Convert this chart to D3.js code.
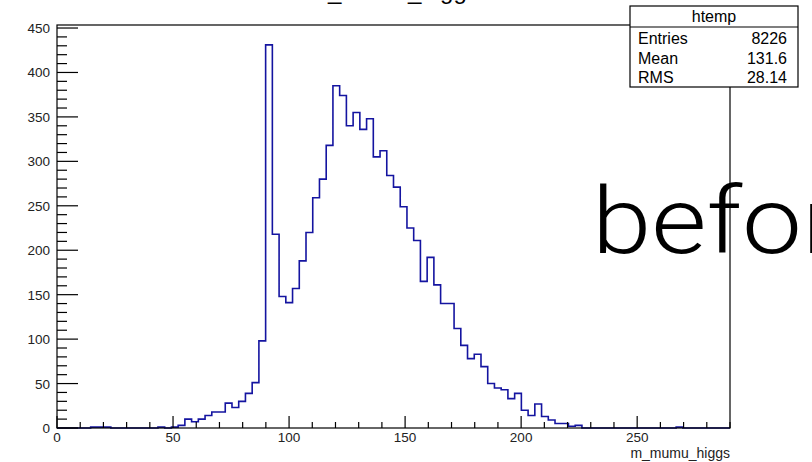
<!DOCTYPE html>
<html>
<head>
<meta charset="utf-8">
<script src="https://cdn.jsdelivr.net/npm/d3@7"></script>
<style>
  body { margin: 0; background: #fff; }
  text { font-family: "Liberation Sans", Arial, sans-serif; }
</style>
</head>
<body>
<div id="chart"></div>
<script>
// histogram of m_mumu_higgs, 100 bins from 0 to 290
const xMin = 0
const xMax = 290
const nBins = 100
const counts = [
  0, 0, 0, 0, 0, 1, 1, 1, 0, 0,
  0, 0, 0, 0, 0, 1, 0, 1, 3, 10,
  7, 10, 14, 18, 18, 28, 23, 30, 39, 51,
  98, 431, 218, 148, 141, 157, 188, 220, 259, 280,
  318, 385, 374, 340, 355, 336, 348, 305, 312, 284,
  271, 249, 225, 211, 165, 192, 161, 140, 140, 112,
  93, 78, 83, 69, 50, 45, 43, 33, 39, 20,
  14, 27, 13, 9, 5, 5, 2, 3, 0, 0,
  0, 0, 0, 0, 0, 0, 0, 0, 0, 0,
  0, 0, 1, 0, 0, 0, 0, 0, 0, 0
]
const xTicks = [0, 50, 100, 150, 200, 250]
const yTicks = [0, 50, 100, 150, 200, 250, 300, 350, 400, 450]
const histName = "htemp"
const statLabels = ["Entries", "Mean", "RMS"]
const statValues = ["8226", "131.6", "28.14"]
const titleText = "m_mumu_higgs"
const xTitle = "m_mumu_higgs"
const sideNote = "before"

const width = 812
const height = 462
const padL = 57, padR = 730, padT = 25, padB = 428

const svg = d3.select("#chart")
  .append("svg")
    .attr("width", width)
    .attr("height", height)

const x = d3.scaleLinear().domain([xMin, xMax]).range([padL, padR])
const y = d3.scaleLinear().domain([0, 453.4]).range([padB, padT])
const binW = (xMax - xMin) / nBins

// title, mostly cut off at the top of the canvas
svg.append("text")
  .attr("x", 308)
  .attr("y", -1)
  .style("font-size", "24px")
  .attr("fill", "#000")
  .text(titleText)

// histogram outline as steps
const pts = []
counts.forEach((c, i) => {
  pts.push([xMin + i * binW, c])
  pts.push([xMin + (i + 1) * binW, c])
})
svg.append("path")
  .datum(pts)
  .attr("fill", "none")
  .attr("stroke", "#1414a0")
  .attr("stroke-width", 1.6)
  .attr("d", d3.line().x(d => x(d[0])).y(d => y(d[1])))

// frame
svg.append("rect")
  .attr("x", padL).attr("y", padT)
  .attr("width", padR - padL).attr("height", padB - padT)
  .attr("fill", "none")
  .attr("stroke", "#000")
  .attr("stroke-width", 1.2)

// x ticks (inside the frame, pointing up)
const xMinor = d3.range(0, xMax + 0.1, 10)
svg.append("g").selectAll("line")
  .data(xMinor)
  .join("line")
    .attr("x1", d => x(d)).attr("x2", d => x(d))
    .attr("y1", padB)
    .attr("y2", d => padB - (d % 50 === 0 ? 12 : 6))
    .attr("stroke", "#000")
    .attr("stroke-width", 1.2)

svg.append("g").selectAll("text")
  .data(xTicks)
  .join("text")
    .attr("x", d => x(d))
    .attr("y", 442)
    .attr("text-anchor", "middle")
    .style("font-size", "13.5px")
    .attr("fill", "#222")
    .text(d => d)

// y ticks (inside the frame, pointing right)
const yMinor = d3.range(0, 451, 10)
svg.append("g").selectAll("line")
  .data(yMinor)
  .join("line")
    .attr("x1", padL)
    .attr("x2", d => padL + (d % 50 === 0 ? 21 : 10))
    .attr("y1", d => y(d)).attr("y2", d => y(d))
    .attr("stroke", "#000")
    .attr("stroke-width", 1.2)

svg.append("g").selectAll("text")
  .data(yTicks)
  .join("text")
    .attr("x", 50)
    .attr("y", d => y(d) + 5)
    .attr("text-anchor", "end")
    .style("font-size", "13.5px")
    .attr("fill", "#222")
    .text(d => d)

// axis title
svg.append("text")
  .attr("x", padR)
  .attr("y", 458)
  .attr("text-anchor", "end")
  .style("font-size", "14px")
  .attr("fill", "#222")
  .text(xTitle)

// stats box
const sb = { x0: 630, x1: 798, y0: 6, y1: 87, head: 27 }
svg.append("rect")
  .attr("x", sb.x0).attr("y", sb.y0)
  .attr("width", sb.x1 - sb.x0).attr("height", sb.y1 - sb.y0)
  .attr("fill", "#fff")
  .attr("stroke", "#000")
  .attr("stroke-width", 1.2)
svg.append("line")
  .attr("x1", sb.x0).attr("x2", sb.x1)
  .attr("y1", sb.head).attr("y2", sb.head)
  .attr("stroke", "#000")
  .attr("stroke-width", 1.2)
svg.append("text")
  .attr("x", (sb.x0 + sb.x1) / 2)
  .attr("y", 22)
  .attr("text-anchor", "middle")
  .style("font-size", "16px")
  .text(histName)

const rows = svg.append("g").selectAll("g")
  .data(statLabels)
  .join("g")
rows.append("text")
  .attr("x", 638)
  .attr("y", (d, i) => 44 + i * 19.5)
  .style("font-size", "16px")
  .text(d => d)
rows.append("text")
  .attr("x", 787)
  .attr("y", (d, i) => 44 + i * 19.5)
  .attr("text-anchor", "end")
  .style("font-size", "16px")
  .text((d, i) => statValues[i])

// big overlaid word, runs off the right edge
svg.append("text")
  .attr("transform", "translate(592,253) scale(1.15,1)")
  .style("font-family", "Roboto, Lato, sans-serif")
  .style("font-weight", 300)
  .style("font-size", "93px")
  .attr("fill", "#000")
  .text(sideNote)
</script>
</body>
</html>
